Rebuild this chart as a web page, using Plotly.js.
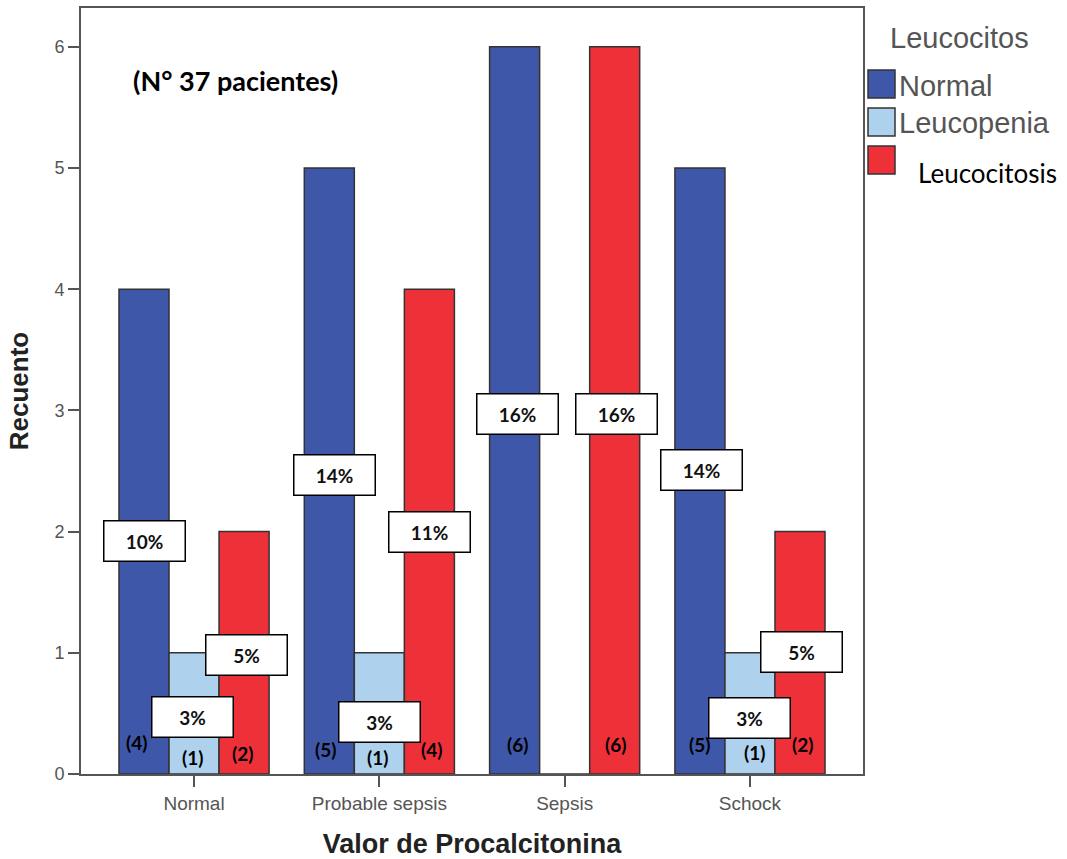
<!DOCTYPE html>
<html>
<head>
<meta charset="utf-8">
<script src="https://cdn.plot.ly/plotly-3.0.1.min.js"></script>
<style>html,body{margin:0;padding:0;background:#fff;}#chart{width:1067px;height:859px;}</style>
</head>
<body>
<div id="chart"></div>
<script>
// ---- data ----
const categories = ["Normal", "Probable sepsis", "Sepsis", "Schock"];
const seriesNames = ["Normal", "Leucopenia", "Leucocitosis"];
const normalCounts = [4, 5, 6, 5];
const leucopeniaCounts = [1, 1, 0, 1];
const leucocitosisCounts = [2, 4, 6, 2];
const normalPct = ["10%", "14%", "16%", "14%"];
const leucopeniaPct = ["3%", "3%", "", "3%"];
const leucocitosisPct = ["5%", "11%", "16%", "5%"];

// ---- styles / label placement (pixel offsets and y positions) ----
const colors = ["#3F57A8", "#AED1EE", "#EE3039"];
const pctXShift = [[-50, -45, -47, -48], [-2, 0, 0, 0], [52, 50, 52, 52]];
const pctY = [[1.92, 2.47, 2.97, 2.51], [0.47, 0.43, 0, 0.46], [0.98, 2.0, 2.97, 1.01]];
const cntXShift = [[-58, -54, -47, -50], [-2, -2, 0, 5], [48, 52, 51, 53]];
const cntY = [[0.26, 0.2, 0.24, 0.24], [0.14, 0.14, 0, 0.18], [0.17, 0.2, 0.24, 0.24]];

const counts = [normalCounts, leucopeniaCounts, leucocitosisCounts];
const pcts = [normalPct, leucopeniaPct, leucocitosisPct];

const traces = seriesNames.map((name, i) => ({
  type: "bar",
  name: name,
  x: categories,
  y: counts[i],
  marker: { color: colors[i], line: { color: "#333", width: 1.5 } },
  hoverinfo: "x+y+name",
  showlegend: false
}));

const annotations = [];
const labelFont = "Lato, 'Open Sans', sans-serif";
const arial = "'Liberation Sans', Arial, sans-serif";
for (let s = 0; s < 3; s++) {
  for (let c = 0; c < categories.length; c++) {
    if (!counts[s][c]) continue;
    annotations.push({
      xref: "x", yref: "y", x: categories[c], y: pctY[s][c], xshift: pctXShift[s][c],
      text: "<b>" + pcts[s][c] + "</b>", showarrow: false,
      bgcolor: "#fff", bordercolor: "#000", borderwidth: 1.5, borderpad: 1,
      width: 78, height: 37,
      font: { family: labelFont, size: 19, color: "#111" }
    });
    annotations.push({
      xref: "x", yref: "y", x: categories[c], y: cntY[s][c], xshift: cntXShift[s][c],
      text: "<b>(" + counts[s][c] + ")</b>", showarrow: false,
      font: { family: labelFont, size: 19, color: "#000" }
    });
  }
}

// subtitle
const L = 81, R = 863, T = 8, B = 774;
const px = v => (v - L) / (R - L);
const py = v => (B - v) / (B - T);
annotations.push({
  xref: "paper", yref: "paper", x: px(235), y: py(80), xanchor: "center", yanchor: "middle",
  text: "<b>(N° 37 pacientes)</b>", showarrow: false,
  font: { family: labelFont, size: 27, color: "#000" }
});

// custom legend
const shapes = [];
annotations.push({
  xref: "paper", yref: "paper", x: px(888), y: py(38), xanchor: "left", yanchor: "middle",
  text: "Leucocitos", showarrow: false,
  font: { family: arial, size: 29, color: "#555" }
});
const legTop = [70, 108, 146];
const legTextX = [897, 897, 916];
const legTextY = [86, 123, 173];
for (let i = 0; i < 3; i++) {
  shapes.push({
    type: "rect", xref: "paper", yref: "paper",
    x0: px(868), x1: px(895), y0: py(legTop[i]), y1: py(legTop[i] + 28),
    fillcolor: colors[i], line: { color: "#333", width: 1.5 }
  });
  annotations.push({
    xref: "paper", yref: "paper", x: px(legTextX[i]), y: py(legTextY[i]), xanchor: "left", yanchor: "middle",
    text: seriesNames[i], showarrow: false,
    font: i < 2 ? { family: arial, size: 29, color: "#555" }
               : { family: labelFont, size: 26, color: "#000" }
  });
}

const layout = {
  width: 1067, height: 859,
  margin: { l: L, r: 1067 - R, t: T, b: 859 - B, pad: 0 },
  paper_bgcolor: "#fff", plot_bgcolor: "#fff",
  barmode: "group", bargap: 0.19, bargroupgap: 0,
  showlegend: false,
  xaxis: {
    type: "category", range: [-0.61, 3.61],
    showline: true, linecolor: "#555", linewidth: 2, mirror: true,
    ticks: "outside", ticklen: 11, tickwidth: 2, tickcolor: "#555",
    showgrid: false, zeroline: false,
    tickfont: { family: arial, size: 19, color: "#555" },
    title: { text: "<b>Valor de Procalcitonina</b>", standoff: 26,
      font: { family: arial, size: 27, color: "#222" } }
  },
  yaxis: {
    range: [0, 6.32], dtick: 1,
    showline: true, linecolor: "#555", linewidth: 2, mirror: true,
    ticks: "outside", ticklen: 11, tickwidth: 2, tickcolor: "#555",
    showgrid: false, zeroline: false,
    tickfont: { family: arial, size: 18, color: "#555" },
    title: { text: "<b>Recuento</b>", standoff: 18,
      font: { family: arial, size: 26, color: "#222" } }
  },
  annotations: annotations,
  shapes: shapes
};

Plotly.newPlot("chart", traces, layout, { displayModeBar: false, staticPlot: true });
</script>
</body>
</html>
